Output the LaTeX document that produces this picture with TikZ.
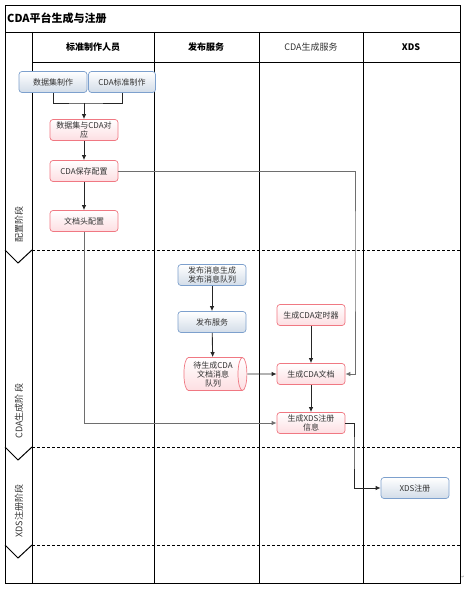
\documentclass[tikz,border=0pt]{standalone}
\usepackage{fontspec}
\setmainfont{Noto Sans CJK SC}
\newfontfamily\dejavu{DejaVu Sans}
\usetikzlibrary{shapes.geometric,arrows.meta}
\definecolor{boxblue}{RGB}{125,160,205}
\definecolor{blueshade}{RGB}{210,220,232}
\definecolor{boxpink}{RGB}{240,120,130}
\definecolor{pinkshade}{RGB}{253,222,226}
\definecolor{textgray}{RGB}{50,50,50}
\definecolor{linegray}{RGB}{110,110,110}
\begin{document}
\begin{tikzpicture}[x=1pt,y=-1pt,
  boxbase/.style={rounded corners=3pt, minimum width=68pt, minimum height=21pt,
    inner sep=1pt, font=\fontsize{8}{9}\selectfont, text=textgray, align=center, line width=0.7pt},
  bluebox/.style={boxbase, draw=boxblue, top color=white, bottom color=blueshade},
  pinkbox/.style={boxbase, draw=boxpink, top color=white, bottom color=pinkshade},
  conn/.style={draw=black!85, line width=0.9pt},
  connG/.style={draw=linegray, line width=0.9pt},
  arr/.style={conn, -{Latex[length=5pt,width=4.5pt]}},
  arrG/.style={connG, -{Latex[length=5pt,width=4.5pt]}},
  lane/.style={line width=0.9pt},
  phaseline/.style={line width=0.9pt, dash pattern=on 3pt off 2pt},
  header/.style={font=\fontsize{9}{10}\selectfont},
  phasetext/.style={rotate=90, font=\fontsize{9}{10}\selectfont, text=textgray}
]
\useasboundingbox (0,0) rectangle (465,591);
% frame
\draw[lane] (5,5) rectangle (460,583);
\draw[lane] (5,32) -- (460,32);
\draw[lane] (32,62) -- (460,62);
\draw[lane] (32,32) -- (32,583);
\draw[lane] (154,32) -- (154,583);
\draw[lane] (259,32) -- (259,583);
\draw[lane] (363,32) -- (363,583);
\node[anchor=west, font=\fontsize{11}{12}\selectfont\bfseries, inner sep=0pt] (title) at (7,18) {CDA平台生成与注册};
\node[header, font=\fontsize{9}{10}\selectfont\bfseries] (h1) at (93,47) {标准制作人员};
\node[header, font=\fontsize{9}{10}\selectfont\bfseries] (h2) at (206,47) {发布服务};
\node[header, text=textgray] (h3) at (311,47) {CDA生成服务};
\node[header, font=\fontsize{9}{10}\selectfont\bfseries] (h4) at (411,47) {XDS};
% phases
\foreach \yy in {250,447,545}{
  \draw[phaseline] (32,\yy) -- (460,\yy);
  \draw[line width=1pt] (5,\yy) -- (18,\yy+13) -- (32,\yy);
}
\node[phasetext] (p1) at (19,224) {配置阶段};
\node[phasetext] (p2) at (19,411) {CDA生成阶\,段};
\node[phasetext] (p3) at (19,511) {XDS注册阶段};
% nodes
\node[bluebox] (ds) at (53,82) {数据集制作};
\node[bluebox, minimum width=67pt] (cda) at (122,82) {CDA标准制作};
\node[pinkbox] (map) at (84,130) {数据集与CDA对\\应};
\node[pinkbox] (save) at (84,171) {CDA保存配置};
\node[pinkbox] (head) at (84,221) {文档头配置};
\node[bluebox] (msg) at (212,275) {发布消息生成\\发布消息队列};
\node[bluebox] (pub) at (212,322) {发布服务};
\node[cylinder, draw=boxpink, line width=0.7pt, top color=white, bottom color=pinkshade,
  minimum width=33pt, minimum height=63pt, aspect=0.35, inner sep=0pt,
  font=\fontsize{8}{9}\selectfont, text=textgray, align=center] (queue) at (213,374) {待生成CDA\\文档消息\\队列};
\node[pinkbox] (timer) at (311,315) {生成CDA定时器};
\node[pinkbox] (gen) at (311,374) {生成CDA文档};
\node[pinkbox] (info) at (311,423) {生成XDS注册\\信息};
\node[bluebox] (reg) at (415,488) {XDS注册};
\node[font=\dejavu\fontsize{4}{4}\selectfont, text=gray, inner sep=0pt] (mark) at (463,577) {↵};
% connectors
\coordinate (j) at (84,103);
\draw[conn] (ds.south) |- (j) -| (cda.south);
\draw[arr] (j) -- (map.north);
\draw[arr] (map) -- (save);
\draw[arr] (save) -- (head);
\coordinate (r1) at (355,250);
\draw[arrG] (save.east) -| (r1) |- (gen.east);
\draw[arrG] (head.south) |- (info.west);
\draw[arr] (msg) -- (pub);
\draw[arr] (pub) -- (queue);
\draw[arr] (queue.east) -- (gen.west);
\draw[arr] (timer) -- (gen);
\draw[arr] (gen) -- (info);
\coordinate (r2) at (354,450);
\draw[arr] (info.east) -| (r2) |- (reg.west);
\end{tikzpicture}
\end{document}
